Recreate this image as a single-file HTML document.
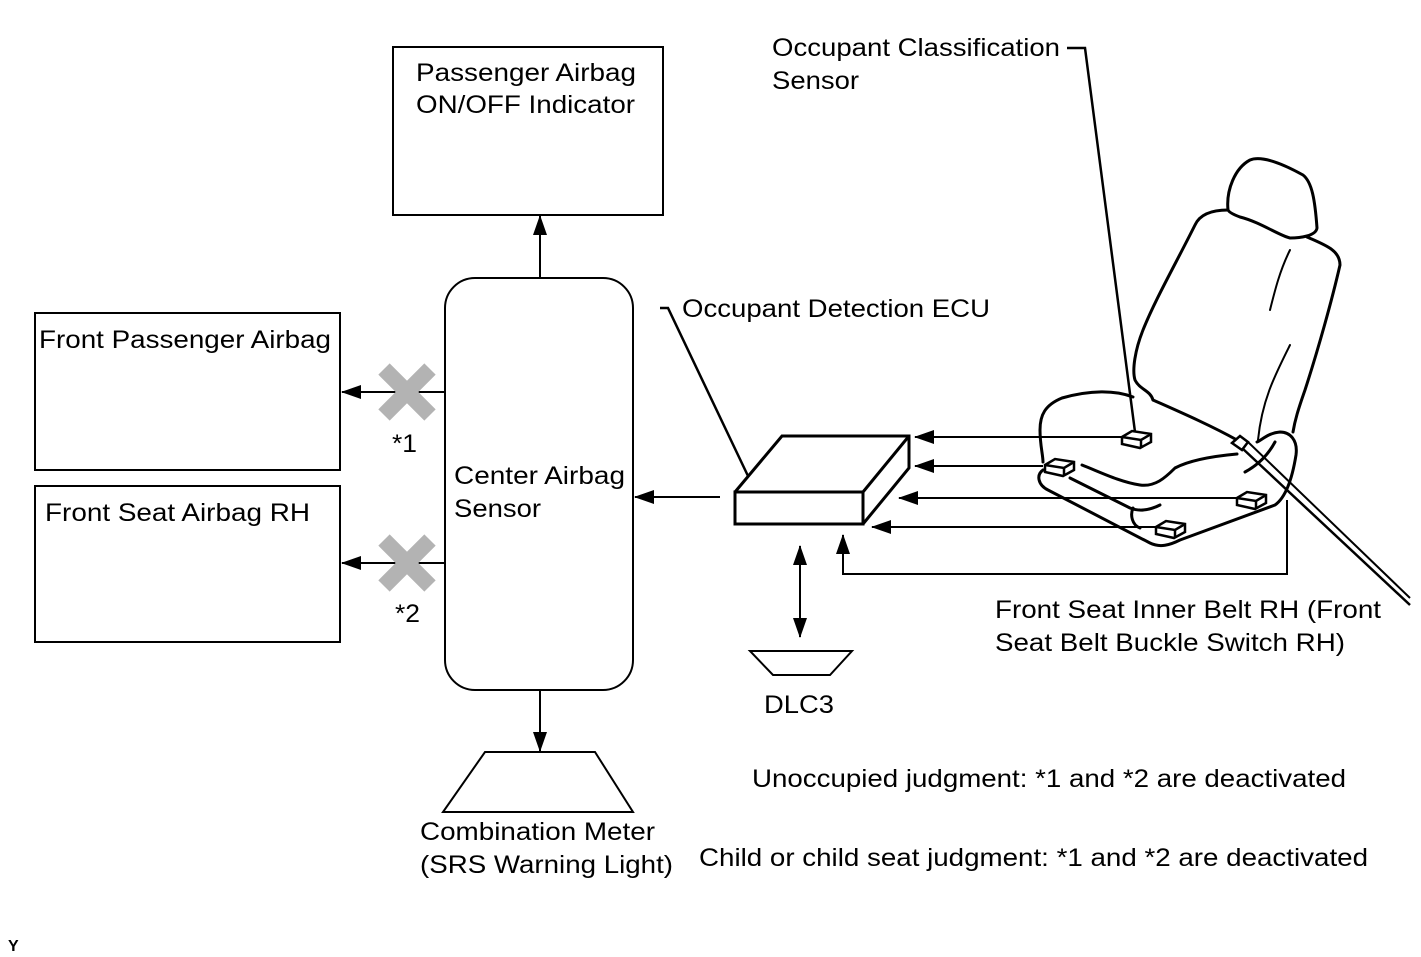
<!DOCTYPE html>
<html><head><style>
html,body{margin:0;padding:0;background:#fff}
svg{display:block}
text{font-family:"Liberation Sans",Arial,sans-serif;font-size:25px;fill:#000}
</style></head><body>
<svg width="1421" height="957" viewBox="0 0 1421 957" xmlns="http://www.w3.org/2000/svg">
<defs>
<marker id="ah" markerWidth="20" markerHeight="14" refX="19" refY="7" orient="auto" markerUnits="userSpaceOnUse">
<path d="M0,0 L20,7 L0,14 Z" fill="#000"/>
</marker>
<marker id="as" markerWidth="20" markerHeight="14" refX="1" refY="7" orient="auto" markerUnits="userSpaceOnUse">
<path d="M20,0 L0,7 L20,14 Z" fill="#000"/>
</marker>
</defs>
<g fill="none" stroke="#000" stroke-width="2">
<rect x="393" y="47" width="270" height="168"/>
<rect x="445" y="278" width="188" height="412" rx="30"/>
<rect x="35" y="313" width="305" height="157"/>
<rect x="35" y="486" width="305" height="156"/>
<line x1="540" y1="278" x2="540" y2="216" marker-end="url(#ah)"/>
<line x1="540" y1="690" x2="540" y2="751" marker-end="url(#ah)"/>
<line x1="445" y1="392" x2="342" y2="392" marker-end="url(#ah)"/>
<line x1="445" y1="563" x2="342" y2="563" marker-end="url(#ah)"/>
<line x1="720" y1="497" x2="635" y2="497" marker-end="url(#ah)"/>
<polygon points="485,752 595,752 633,812 443,812"/>
<polygon points="750,651 852,651 830,675 773,675"/>
<line x1="800" y1="546" x2="800" y2="637" marker-start="url(#as)" marker-end="url(#ah)"/>
<g stroke-width="3">
<polygon points="735,492 863,492 863,524 735,524"/>
<polyline points="735,492 782,436 909,436 909,468 863,524"/>
<line x1="863" y1="492" x2="909" y2="436"/>
</g>
<polyline points="660,308 668,308 748,476" stroke-width="2.5"/>
<line x1="1125" y1="437" x2="915" y2="437" marker-end="url(#ah)"/>
<line x1="1043" y1="466" x2="915" y2="466" marker-end="url(#ah)"/>
<line x1="1237" y1="498" x2="899" y2="498" marker-end="url(#ah)"/>
<line x1="1155" y1="527" x2="872" y2="527" marker-end="url(#ah)"/>
<polyline points="1287,500 1287,574 843,574 843,535" marker-end="url(#ah)"/>
<polyline points="1067,48 1085,48 1135,432" stroke-width="2.5"/>
<g stroke-width="3" stroke-linejoin="round" stroke-linecap="round">
<path d="M1228,210 C1226,190 1235,168 1250,160 C1262,155 1285,165 1303,175 C1312,182 1315,200 1317,228 C1316,236 1300,238 1290,238 C1280,236 1260,222 1240,217 C1232,214 1229,212 1228,210 Z"/>
<path d="M1228,210 C1212,210 1200,214 1195,225 C1175,265 1155,300 1143,330 C1135,350 1132,370 1135,380 C1140,390 1150,390 1153,400"/>
<path d="M1307,237 C1325,245 1340,250 1340,265 C1332,300 1318,350 1305,390 C1298,410 1295,420 1293,432"/>
<path d="M1133,397 C1115,390 1090,390 1062,398 C1045,405 1040,415 1040,430 C1040,445 1043,455 1043,462"/>
<path d="M1153,400 C1180,412 1210,425 1237,440"/>
<path d="M1043,470 C1036,475 1038,485 1048,490 L1150,543 C1160,548 1170,545 1180,540 L1275,505 C1285,498 1292,480 1296,455 C1298,440 1290,432 1280,432 C1268,433 1262,440 1257,442"/>
<path d="M1082,465 C1100,472 1120,482 1140,485 C1155,487 1165,478 1175,468 C1190,460 1215,456 1237,454"/>
<path d="M1070,478 L1130,508 C1140,512 1150,510 1160,505"/>
<path d="M1133,508 C1130,515 1132,525 1140,528"/>
<path d="M1275,442 C1268,455 1258,465 1245,472"/>
<path d="M1290,250 C1280,270 1275,290 1270,310" stroke-width="2"/>
<path d="M1290,345 C1275,375 1262,400 1258,440" stroke-width="2"/>
</g>
<g stroke-width="2.5" fill="#fff">
<polygon points="1122,437 1132,431 1151,434 1151,442 1140,448 1122,444"/>
<polyline points="1122,437 1141,440 1151,434"/><line x1="1141" y1="440" x2="1141" y2="448"/>
<polygon points="1045,465 1055,459 1074,462 1074,470 1063,476 1045,472"/>
<polyline points="1045,465 1064,468 1074,462"/><line x1="1064" y1="468" x2="1064" y2="476"/>
<polygon points="1237,498 1247,492 1266,495 1266,503 1255,509 1237,505"/>
<polyline points="1237,498 1256,501 1266,495"/><line x1="1256" y1="501" x2="1256" y2="509"/>
<polygon points="1156,527 1166,521 1185,524 1185,532 1174,538 1156,534"/>
<polyline points="1156,527 1175,530 1185,524"/><line x1="1175" y1="530" x2="1175" y2="538"/>
<polygon points="1232,443 1240,436 1248,442 1242,450"/>
</g>
<line x1="1242" y1="448" x2="1410" y2="605" stroke-width="2.5"/>
<line x1="1248" y1="442" x2="1410" y2="598" stroke-width="2"/>
</g>
<g stroke="#b3b3b3" stroke-width="16">
<line x1="384" y1="369" x2="430" y2="415"/><line x1="430" y1="369" x2="384" y2="415"/>
<line x1="384" y1="540" x2="430" y2="586"/><line x1="430" y1="540" x2="384" y2="586"/>
</g>
<g lengthAdjust="spacingAndGlyphs">
<text x="416" y="81" textLength="220" lengthAdjust="spacingAndGlyphs">Passenger Airbag</text>
<text x="416" y="113" textLength="219" lengthAdjust="spacingAndGlyphs">ON/OFF Indicator</text>
<text x="39" y="348" textLength="292" lengthAdjust="spacingAndGlyphs">Front Passenger Airbag</text>
<text x="45" y="521" textLength="265" lengthAdjust="spacingAndGlyphs">Front Seat Airbag RH</text>
<text x="392" y="452" textLength="25" lengthAdjust="spacingAndGlyphs">*1</text>
<text x="395" y="622" textLength="25" lengthAdjust="spacingAndGlyphs">*2</text>
<text x="454" y="484" textLength="171" lengthAdjust="spacingAndGlyphs">Center Airbag</text>
<text x="454" y="517" textLength="87" lengthAdjust="spacingAndGlyphs">Sensor</text>
<text x="420" y="840" textLength="235" lengthAdjust="spacingAndGlyphs">Combination Meter</text>
<text x="420" y="873" textLength="253" lengthAdjust="spacingAndGlyphs">(SRS Warning Light)</text>
<text x="764" y="713" textLength="70" lengthAdjust="spacingAndGlyphs">DLC3</text>
<text x="682" y="317" textLength="308" lengthAdjust="spacingAndGlyphs">Occupant Detection ECU</text>
<text x="772" y="56" textLength="288" lengthAdjust="spacingAndGlyphs">Occupant Classification</text>
<text x="772" y="89" textLength="87" lengthAdjust="spacingAndGlyphs">Sensor</text>
<text x="995" y="618" textLength="386" lengthAdjust="spacingAndGlyphs">Front Seat Inner Belt RH (Front</text>
<text x="995" y="651" textLength="350" lengthAdjust="spacingAndGlyphs">Seat Belt Buckle Switch RH)</text>
<text x="752" y="787" textLength="594" lengthAdjust="spacingAndGlyphs">Unoccupied judgment: *1 and *2 are deactivated</text>
<text x="699" y="866" textLength="669" lengthAdjust="spacingAndGlyphs">Child or child seat judgment: *1 and *2 are deactivated</text>
</g>
<text x="8" y="951" style="font-size:16px;font-weight:bold">Y</text>
</svg>
</body></html>
